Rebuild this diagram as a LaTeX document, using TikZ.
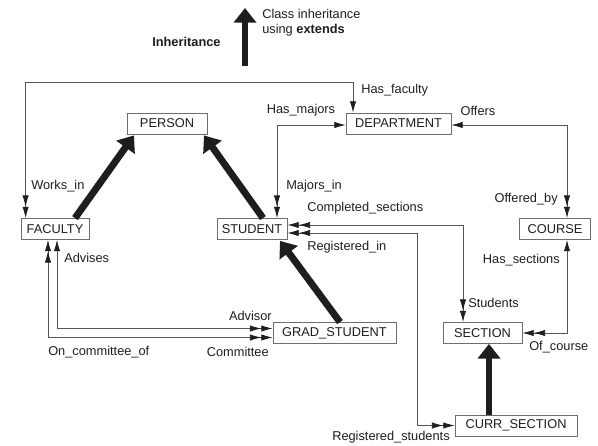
\documentclass[tikz,border=0pt]{standalone}
\usepackage{fontspec}
\setmainfont{Liberation Sans}
\usepackage{xcolor}
\definecolor{hopvien}{HTML}{6E6E6E}
\definecolor{duongnoi}{HTML}{555555}
\definecolor{chuden}{HTML}{1E1E1E}
\usepackage{tikz}
\usetikzlibrary{arrows.meta,calc,positioning}

\begin{document}
\begin{tikzpicture}[x=0.75pt,y=-0.75pt,
		>={Latex[length=8.5pt,width=4.8pt,color=chuden]}]%
		\tikzset{
			klass/.style={draw=hopvien,line width=0.6pt,fill=white,inner xsep=0pt,
				minimum height=15.75pt,font=\fontsize{9.6}{11}\selectfont,text=chuden},
			nhan/.style={font=\fontsize{9.6}{11}\selectfont,text=chuden,inner sep=0pt},
			quanhe/.style={draw=duongnoi,line width=0.6pt},
			thua/.style={draw=chuden,line width=5.2pt,-{Triangle[length=11pt,width=16.5pt]}}
		}
		\useasboundingbox (0,0) rectangle (598,445);
		%%%chu thich
		\coordinate (legbot) at (245,66);
		\coordinate (legtop) at (245,8);
		\draw[thua] (legbot) -- (legtop);
		\node[nhan,anchor=west,font=\bfseries\fontsize{9.6}{11}\selectfont] (leginh) at (152,42) {Inheritance};
		\node[nhan,anchor=north west,align=left] (legtext) at (262,9) {Class inheritance\\using \textbf{extends}};
		%%%cac lop
		\node[klass,minimum width=60pt] (person) at (167,123.5) {PERSON};
		\node[klass,minimum width=78.75pt] (department) at (398.5,123.5) {DEPARTMENT};
		\node[klass,minimum width=51pt] (faculty) at (55,229) {FACULTY};
		\node[klass,minimum width=52.5pt] (student) at (252,229) {STUDENT};
		\node[klass,minimum width=53.25pt] (course) at (555,229) {COURSE};
		\node[klass,minimum width=92.25pt] (grad) at (334.5,333) {GRAD\_STUDENT};
		\node[klass,minimum width=59.25pt] (section) at (482.5,333) {SECTION};
		\node[klass,minimum width=91.5pt] (curr) at (516,425.5) {CURR\_SECTION};
		%%%ke thua
		\draw[thua] ($(faculty.north)+(20,0)$) -- ($(person.south)+(-33,1)$);
		\draw[thua] ($(student.north)+(11,0)$) -- ($(person.south)+(37,1)$);
		\draw[thua] ($(grad.north)+(5.5,0)$) -- ($(student.south)+(28,1)$);
		\draw[thua] ($(curr.north)+(-27,0)$) -- ($(section.south)+(6.5,0)$);
		%%%quan he
		\draw[quanhe,<<->] ($(faculty.north west)+(5,0)$) |- ($(department.north)+(-45.5,-30)$) -- ($(department.north)+(-45.5,0)$);
		\draw[quanhe,<<->] ($(student.north)+(25,0)$) |- ($(department.west)+(0,1.5)$);
		\draw[quanhe,<->>] ($(department.east)+(0,1.5)$) -| ($(course.north)+(12,0)$);
		\draw[quanhe,<<->>] ($(student.east)+(0,-4)$) -| ($(section.north)+(-19.5,0)$);
		\draw[quanhe,<<->>] ($(student.east)+(0,4)$) -| ($(curr.west)+(-37,0)$) -- (curr.west);
		\draw[quanhe,<->>] ($(course.south)+(12,0)$) |- (section.east);
		\draw[quanhe,<->>] ($(faculty.south)+(2,0)$) |- ($(grad.west)+(0,-4.5)$);
		\draw[quanhe,<<->>] ($(faculty.south)+(-7,0)$) |- ($(grad.west)+(0,4.5)$);
		%%%nhan quan he
		\node[nhan,anchor=west] (worksin) at (31,186) {Works\_in};
		\node[nhan,anchor=west] (hasfaculty) at (361,90) {Has\_faculty};
		\node[nhan] (hasmajors) at (301,110) {Has\_majors};
		\node[nhan,anchor=west] (majorsin) at (286,186) {Majors\_in};
		\node[nhan] (offers) at (478,111) {Offers};
		\node[nhan,anchor=east] (offeredby) at (558,199) {Offered\_by};
		\node[nhan,anchor=west] (completed) at (307,208) {Completed\_sections};
		\node[nhan,anchor=west] (regin) at (307,247) {Registered\_in};
		\node[nhan,anchor=west] (students) at (468,303) {Students};
		\node[nhan,anchor=east] (hassections) at (560,260) {Has\_sections};
		\node[nhan,anchor=west] (ofcourse) at (529,347) {Of\_course};
		\node[nhan,anchor=west] (advises) at (64,258) {Advises};
		\node[nhan,anchor=east] (advisor) at (272,316) {Advisor};
		\node[nhan,anchor=west] (oncommittee) at (48,352) {On\_committee\_of};
		\node[nhan,anchor=east] (committee) at (269,352) {Committee};
		\node[nhan,anchor=west] (regstudents) at (332,437) {Registered\_students};
	\end{tikzpicture}
\end{document}
